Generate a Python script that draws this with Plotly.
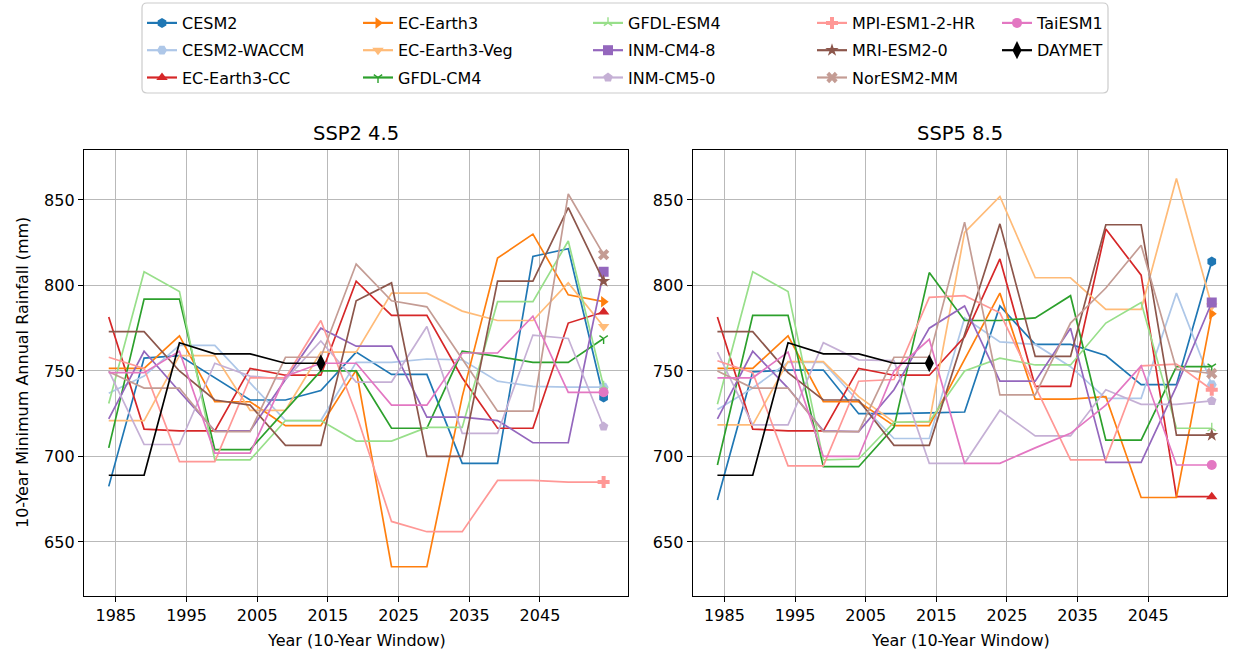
import plotly.graph_objects as go

# ---- data: 10-year window minimum annual rainfall (mm), windows stepped every 5 years ----
years = [1984, 1989, 1994, 1999, 2004, 2009, 2014, 2019, 2024, 2029, 2034, 2039, 2044, 2049, 2054]
daymet_years = [1984, 1989, 1994, 1999, 2004, 2009, 2014]
daymet = [689, 689, 766.5, 760, 760, 754.5, 754.5]

models = ["CESM2", "CESM2-WACCM", "EC-Earth3-CC", "EC-Earth3", "EC-Earth3-Veg", "GFDL-CM4",
          "GFDL-ESM4", "INM-CM4-8", "INM-CM5-0", "MPI-ESM1-2-HR", "MRI-ESM2-0", "NorESM2-MM", "TaiESM1"]

# SSP2 4.5
cesm2_245 = [682.5, 757.5, 759, 746, 733, 733, 738.5, 761, 748, 748, 696, 696, 817, 821.5, 734.5]
cesm2_waccm_245 = [737, 747, 765, 765, 743, 721, 721, 755, 755, 757, 756.5, 744, 741, 740.5, 740.5]
ec_earth3_cc_245 = [781.5, 716, 715, 715, 751.5, 747.5, 747.5, 802.5, 782.5, 782.5, 746, 716.5, 716.5, 778, 784.5]
ec_earth3_245 = [751.5, 751.5, 770.5, 732, 732, 718, 718, 750.5, 635.5, 635.5, 735, 816, 830, 794.5, 790.5]
ec_earth3_veg_245 = [721, 721, 759, 759, 727, 727, 761, 761, 795.5, 795.5, 785, 779.5, 779.5, 801.5, 776]
gfdl_cm4_245 = [705, 792, 792, 704, 704, 727, 750, 750, 716.5, 716.5, 761.5, 758.5, 755, 755, 769]
gfdl_esm4_245 = [731, 808, 796.5, 698, 698, 721, 721, 709, 709, 717, 717, 790.5, 790.5, 826, 741]
inm_cm4_8_245 = [722, 761.5, 738, 715, 715, 745, 775, 764.5, 764.5, 723, 723, 721, 708, 708, 808]
inm_cm5_0_245 = [750, 707, 707, 754.5, 747, 745, 767.5, 743.5, 743.5, 776, 713.5, 713.5, 771, 769, 717.5]
mpi_esm1_2_hr_245 = [758, 751.5, 697, 697, 746, 746, 779.5, 725, 662, 656, 656, 686, 686, 685, 685]
mri_esm2_0_245 = [773, 773, 750, 733, 730, 706.5, 706.5, 791, 801.5, 700, 700, 802.5, 802.5, 845.5, 802.5]
noresm2_mm_245 = [749.5, 740, 740, 714.5, 714.5, 758, 758, 812.5, 791, 787.5, 757, 726.5, 726.5, 853.5, 818]
taiesm1_245 = [749, 749, 761.5, 702, 702, 747, 754.5, 754.5, 730, 730, 760.5, 760.5, 782, 737.5, 737.5]

# SSP5 8.5
cesm2_585 = [674.5, 749.5, 750.5, 750.5, 725, 725, 725.5, 726, 788, 765.5, 765.5, 759, 742, 742, 814]
cesm2_waccm_585 = [727.5, 740, 755, 755, 732, 710.5, 710.5, 781, 767, 765.5, 752.5, 734, 734, 795.5, 742]
ec_earth3_cc_585 = [781.5, 716, 715, 715, 751.5, 747.5, 747.5, 770, 815.5, 741, 741, 833, 806, 676.5, 676.5]
ec_earth3_585 = [751.5, 751.5, 770.5, 732, 732, 718, 718, 757, 795.5, 733.5, 733.5, 735, 676, 676, 783.5]
ec_earth3_veg_585 = [718.5, 718.5, 755.5, 755.5, 735, 720, 720, 831, 852, 804.5, 804.5, 786, 786, 862.5, 788]
gfdl_cm4_585 = [695, 782.5, 782.5, 694, 694, 717, 807.5, 779.5, 779.5, 781, 794, 709.5, 709.5, 752.5, 752.5]
gfdl_esm4_585 = [730.5, 808, 796.5, 698, 698.5, 720, 720.5, 750, 757.5, 753.5, 753.5, 778, 790, 716.5, 716.5]
inm_cm4_8_585 = [722, 761.5, 740, 715, 714.5, 739, 775, 788, 744, 744, 775, 696.5, 696.5, 741, 790]
inm_cm5_0_585 = [761, 718.5, 718.5, 766.5, 756.5, 756, 696, 696, 727, 712, 712, 739, 730.5, 730.5, 732.5]
mpi_esm1_2_hr_585 = [756, 749, 694.5, 694.5, 744, 745, 793, 794, 784, 741, 698, 698, 753, 754, 739]
mri_esm2_0_585 = [773, 773, 749, 733, 733, 706.5, 706.5, 771, 836, 758.5, 758.5, 835.5, 835.5, 712.5, 712.5]
noresm2_mm_585 = [750, 740, 740, 714.5, 714.5, 758, 758, 837, 736, 736, 778, 798.5, 823.5, 751, 748.5]
taiesm1_585 = [746, 746, 761, 700, 700, 750, 768.5, 696, 696, 705, 713.5, 730, 753, 695, 695]

ssp245 = [cesm2_245, cesm2_waccm_245, ec_earth3_cc_245, ec_earth3_245, ec_earth3_veg_245, gfdl_cm4_245,
          gfdl_esm4_245, inm_cm4_8_245, inm_cm5_0_245, mpi_esm1_2_hr_245, mri_esm2_0_245, noresm2_mm_245,
          taiesm1_245]
ssp585 = [cesm2_585, cesm2_waccm_585, ec_earth3_cc_585, ec_earth3_585, ec_earth3_veg_585, gfdl_cm4_585,
          gfdl_esm4_585, inm_cm4_8_585, inm_cm5_0_585, mpi_esm1_2_hr_585, mri_esm2_0_585, noresm2_mm_585,
          taiesm1_585]

x_ticks = [1985, 1995, 2005, 2015, 2025, 2035, 2045]
y_ticks = [650, 700, 750, 800, 850]
panel_titles = ["SSP2 4.5", "SSP5 8.5"]

# ---- styling ----
colors = ["#1f77b4", "#aec7e8", "#d62728", "#ff7f0e", "#ffbb78", "#2ca02c", "#98df8a",
          "#9467bd", "#c5b0d5", "#ff9896", "#8c564b", "#c49c94", "#e377c2"]
symbols = ["hexagon", "hexagon2", "triangle-up", "triangle-right", "triangle-down", "y-down",
           "y-up", "square", "pentagon", "cross", "star", "x", "circle"]
open_symbols = {"y-down", "y-up"}

W, H = 1238, 652
FONT = "DejaVu Sans"
LW = 1.7


def px_x(p):
    return p / W


def px_y(p):
    return 1 - p / H


fig = go.Figure()


def marker_style(color, sym, size=10):
    if sym in open_symbols:
        return dict(symbol=sym, size=7, color=color, line=dict(color=color, width=1.4))
    return dict(symbol=sym, size=size, color=color, line=dict(width=0))


for panel, series in enumerate([ssp245, ssp585]):
    xa = "x" if panel == 0 else "x2"
    ya = "y" if panel == 0 else "y2"
    for name, vals, col, sym in zip(models, series, colors, symbols):
        fig.add_trace(go.Scatter(x=years, y=vals, mode="lines", line=dict(color=col, width=LW),
                                 xaxis=xa, yaxis=ya, showlegend=False, hoverinfo="skip"))
        fig.add_trace(go.Scatter(x=years[-1:], y=vals[-1:], mode="markers",
                                 marker=marker_style(col, sym), xaxis=xa, yaxis=ya,
                                 showlegend=False, hoverinfo="skip"))
    fig.add_trace(go.Scatter(x=daymet_years, y=daymet, mode="lines", line=dict(color="black", width=LW),
                             xaxis=xa, yaxis=ya, showlegend=False, hoverinfo="skip"))
    fig.add_trace(go.Scatter(x=daymet_years[-1:], y=daymet[-1:], mode="markers",
                             marker=dict(symbol="diamond-tall", size=13, color="black"),
                             xaxis=xa, yaxis=ya, showlegend=False, hoverinfo="skip"))

# ---- legend: five columns, three rows ----
legend_names = ["legend", "legend2", "legend3", "legend4", "legend5"]
col_text_x = [188, 404, 634, 858, 1043]
entries = list(zip(models, colors, symbols)) + [("DAYMET", "black", "diamond-tall")]
for i, (name, col, sym) in enumerate(entries):
    mk = marker_style(col, sym) if sym != "diamond-tall" else dict(symbol=sym, size=13, color=col)
    fig.add_trace(go.Scatter(x=[None], y=[None], mode="lines+markers", name=name,
                             line=dict(color=col, width=2.2), marker=mk,
                             legend=legend_names[i // 3], legendgroup=name, showlegend=True))

layout_legends = {}
for k, ln in enumerate(legend_names):
    layout_legends[ln] = dict(
        x=px_x(col_text_x[k] - 46), y=px_y(6), xanchor="left", yanchor="top",
        orientation="v", traceorder="grouped", tracegroupgap=3.5,
        bgcolor="rgba(0,0,0,0)", borderwidth=0,
        font=dict(family=FONT, size=16, color="black"),
    )

# legend frame
bx0, by0, bx1, by1, r = 142, 3, 1108, 93, 5
frame_path = (f"M {px_x(bx0 + r)},{px_y(by0)} L {px_x(bx1 - r)},{px_y(by0)} "
              f"Q {px_x(bx1)},{px_y(by0)} {px_x(bx1)},{px_y(by0 + r)} "
              f"L {px_x(bx1)},{px_y(by1 - r)} Q {px_x(bx1)},{px_y(by1)} {px_x(bx1 - r)},{px_y(by1)} "
              f"L {px_x(bx0 + r)},{px_y(by1)} Q {px_x(bx0)},{px_y(by1)} {px_x(bx0)},{px_y(by1 - r)} "
              f"L {px_x(bx0)},{px_y(by0 + r)} Q {px_x(bx0)},{px_y(by0)} {px_x(bx0 + r)},{px_y(by0)} Z")

left_dom = [px_x(84), px_x(628)]
right_dom = [px_x(692.7), px_x(1227.3)]
y_dom = [px_y(596), px_y(150)]

axis_common = dict(
    showgrid=True, gridcolor="#b9b9b9", gridwidth=1.4,
    showline=True, linecolor="black", linewidth=1.3, mirror=True,
    ticks="outside", ticklen=5, tickwidth=1.3, tickcolor="black",
    tickfont=dict(family=FONT, size=16, color="black"), zeroline=False,
)

fig.update_layout(
    width=W, height=H, autosize=False,
    margin=dict(l=0, r=0, t=0, b=0),
    paper_bgcolor="white", plot_bgcolor="white",
    font=dict(family=FONT, color="black"),
    xaxis=dict(domain=left_dom, range=[1980.5, 2057.45], tickvals=x_ticks, anchor="y", **axis_common),
    yaxis=dict(domain=y_dom, range=[618.4, 879.2], tickvals=y_ticks, anchor="x", **axis_common),
    xaxis2=dict(domain=right_dom, range=[1980.5, 2056.2], tickvals=x_ticks, anchor="y2", **axis_common),
    yaxis2=dict(domain=y_dom, range=[618.4, 879.2], tickvals=y_ticks, anchor="x2", **axis_common),
    shapes=[dict(type="path", xref="paper", yref="paper", path=frame_path,
                 line=dict(color="#cccccc", width=1.2), fillcolor="rgba(255,255,255,0)", layer="below")],
    **layout_legends,
)

annotations = []
centers = [(84 + 628) / 2, (692.7 + 1227.3) / 2]
for c, t in zip(centers, panel_titles):
    annotations.append(dict(text=t, x=px_x(c), y=px_y(133), xref="paper", yref="paper",
                            showarrow=False, xanchor="center", yanchor="middle",
                            font=dict(family=FONT, size=19.5, color="black")))
    annotations.append(dict(text="Year (10-Year Window)", x=px_x(c), y=px_y(640), xref="paper", yref="paper",
                            showarrow=False, xanchor="center", yanchor="middle",
                            font=dict(family=FONT, size=16, color="black")))
annotations.append(dict(text="10-Year Minimum Annual Rainfall (mm)", x=px_x(22), y=px_y(373),
                        xref="paper", yref="paper", showarrow=False, textangle=-90,
                        xanchor="center", yanchor="middle",
                        font=dict(family=FONT, size=16, color="black")))
fig.update_layout(annotations=annotations)

fig.write_html("out.html")
